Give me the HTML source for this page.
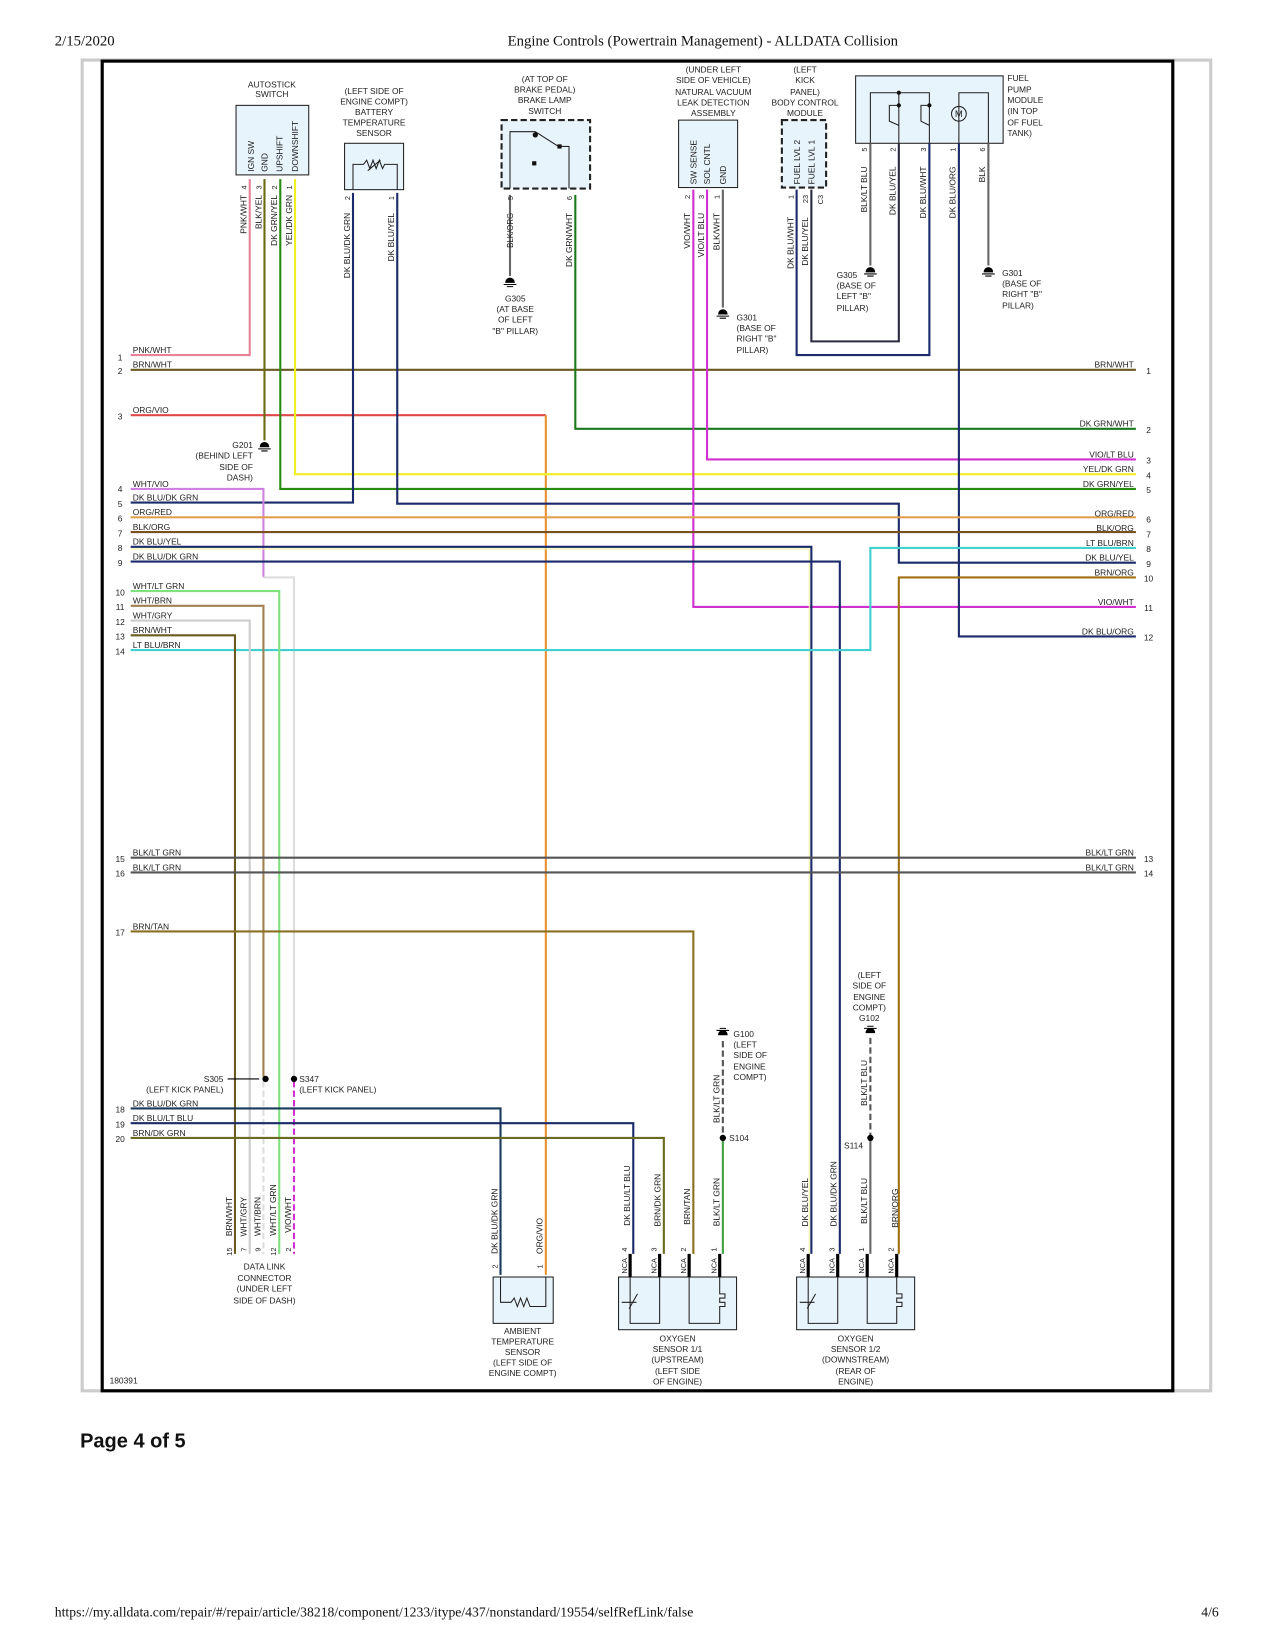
<!DOCTYPE html>
<html><head><meta charset="utf-8"><style>
html,body{margin:0;padding:0;background:#fff}
svg{display:block}
.t{font-family:"Liberation Sans",sans-serif;font-size:8px;fill:#222}
.s{font-family:"Liberation Serif",serif;font-size:14px;fill:#111}
.w{fill:none;stroke-width:2}
.c{text-anchor:middle}
.e{text-anchor:end}
</style></head><body>
<svg width="1275" height="1650" viewBox="0 0 1210 1566" preserveAspectRatio="none" xmlns="http://www.w3.org/2000/svg">
<text class="s" x="52" y="43">2/15/2020</text>
<text class="s c" x="667" y="43">Engine Controls (Powertrain Management) - ALLDATA Collision</text>
<rect x="78" y="57" width="1071" height="1263" fill="none" stroke="#ccc" stroke-width="3"/>
<rect x="97" y="58" width="1016" height="1262" fill="none" stroke="#000" stroke-width="3"/>
<text x="76" y="1374" style="font-family:'Liberation Sans',sans-serif;font-size:19px;font-weight:bold;fill:#111">Page 4 of 5</text>
<text class="s" x="52" y="1534" style="font-size:13px">https://my.alldata.com/repair/#/repair/article/38218/component/1233/itype/437/nonstandard/19554/selfRefLink/false</text>
<text class="s" x="1140" y="1534" style="font-size:13px">4/6</text>

<g fill="#e8f4fc" stroke="#222" stroke-width="1">
<rect x="224" y="100" width="69" height="66"/>
<rect x="327" y="136" width="56" height="44"/>
<rect x="476" y="114" width="84" height="65" stroke-dasharray="6,3" stroke-width="2"/>
<rect x="644" y="114" width="56" height="64"/>
<rect x="742" y="114" width="42" height="64" stroke-dasharray="6,3" stroke-width="2"/>
<rect x="812" y="72" width="140" height="64"/>
<rect x="468" y="1212" width="57" height="44"/>
<rect x="587" y="1212" width="112" height="50"/>
<rect x="756" y="1212" width="112" height="50"/>
</g>
<g fill="none" stroke="#222" stroke-width="1">
<path d="M335 180 V156 H345 l3-4 3 8 3-8 3 8 3-8 3 8 2-4 H377 V180"/>
<path d="M349 162 l12-10"/>
<path d="M484 179 V125 H508 L530 139 H540 V179"/>
<path d="M826 136 V88 H882 V136 M853 88 V136 M910 136 V88 H938 V136"/>
<path d="M853 100 H844 V115 l9 4 M882 100 H874 V115 l8 4"/>
<circle cx="910" cy="108" r="7"/>
<path d="M475 1212 V1236 H485 l3-4 3 8 3-8 3 8 3-8 3 8 H518 V1212"/>
<path d="M598 1212 V1256 H626 V1212 M654 1212 V1256 H683 V1240 h5 v-4 h-5 v-4 h5 v-4 h-5 V1212"/>
<path d="M767 1212 V1256 H795 V1212 M823 1212 V1256 H851 V1240 h5 v-4 h-5 v-4 h5 v-4 h-5 V1212"/>
<path d="M590 1236 h14 M597 1242 l8-14 M759 1236 h14 M766 1242 l8-14"/>
</g>
<text class="t c" x="910" y="111" style="font-size:9px">M</text>
<rect x="505" y="153" width="4" height="4" fill="#111"/><circle cx="508" cy="128" r="2.5" fill="#111"/><rect x="529" y="137" width="4" height="4" fill="#111"/>
<circle cx="853" cy="88" r="2" fill="#111"/><circle cx="853" cy="100" r="2" fill="#111"/><circle cx="882" cy="100" r="2" fill="#111"/>

<g class="w">
<path stroke="#e8829a" d="M124 337 H237 V170"/>
<path stroke="#6b5a20" d="M124 351 H1078"/>
<path stroke="#e04848" d="M124 394 H518"/>
<path stroke="#e89030" d="M518 394 V1210"/>
<path stroke="#6b6a10" d="M251 170 V418"/>
<path stroke="#2a8a10" d="M266 170 V464 H1078"/>
<path stroke="#f0f020" d="M280 170 V450 H1078"/>
<path stroke="#1a2a6a" d="M335 183 V477 H124"/>
<path stroke="#1a2a6a" d="M377 183 V478 H853 V534 H1078"/>
<path stroke="#666" d="M484 185 V262"/>
<path stroke="#1a7a1a" d="M546 185 V407 H1078"/>
<path stroke="#d030d0" d="M658 180 V576 H1078"/>
<path stroke="#d030d0" d="M671 180 V436 H1078"/>
<path stroke="#666" d="M686 180 V292"/>
<path stroke="#1a2a6a" d="M756 180 V337 H882 V136"/>
<path stroke="#2a2a40" d="M770 180 V324 H853 V136"/>
<path stroke="#666" d="M826 136 V252"/>
<path stroke="#1a2a6a" d="M910 136 V604 H1078"/>
<path stroke="#666" d="M938 136 V252"/>
<path stroke="#d080e0" d="M124 464 H250 V548"/>
<path stroke="#ddd" d="M250 548 H279 V1022"/>
<path stroke="#d030d0" stroke-dasharray="6,3" d="M279 1026 V1190"/>
<path stroke="#e0a050" d="M124 491 H1078"/>
<path stroke="#7a5020" d="M124 505 H1078"/>
<path stroke="#1a2a6a" d="M124 519 H770 V1190"/>
<path stroke="#f0f0a0" stroke-width="1" d="M124 521 H768 V1190"/>
<path stroke="#1a2a6a" d="M124 533 H797 V1190"/>
<path stroke="#40d0d0" d="M1078 520 H826 V617 H124"/>
<path stroke="#a07010" d="M1078 548 H853 V1190"/>
<path stroke="#80e080" d="M124 561 H265 V1190"/>
<path stroke="#a08050" d="M124 575 H250 V1022"/>
<path stroke="#ddd" stroke-dasharray="6,3" d="M250 1026 V1190"/>
<path stroke="#ccc" d="M124 589 H237 V1190"/>
<path stroke="#6b5a20" d="M124 603 H223 V1190"/>
<path stroke="#555" d="M124 814 H1078 M124 828 H1078"/>
<path stroke="#8a7020" d="M124 884 H658 V1190"/>
<path stroke="#1a3a5a" d="M124 1052 H475 V1210"/>
<path stroke="#1a2a6a" d="M124 1066 H601 V1190"/>
<path stroke="#6a6a20" d="M124 1080 H630 V1190"/>
<path stroke="#555" stroke-dasharray="6,3" d="M686 988 V1080 M826 985 V1080"/>
<path stroke="#40a040" d="M686 1080 V1190"/>
<path stroke="#666" d="M826 1080 V1190"/>
</g>
<g stroke="#000" stroke-width="3"><path d="M598 1190V1212M626 1190V1212M654 1190V1212M683 1190V1212M767 1190V1212M795 1190V1212M823 1190V1212M851 1190V1212"/></g>
<g fill="#000"><circle cx="252" cy="1024" r="3"/><circle cx="279" cy="1024" r="3"/><circle cx="686" cy="1080" r="3"/><circle cx="826" cy="1080" r="3"/></g>
<path d="M216 1024 H246" stroke="#000" stroke-width="1"/>
<g fill="#000" stroke="#000" stroke-width="1">
<path d="M247 424 a4 4 0 0 1 8 0z M245 426 h12 M248 428 h6"/>
<path d="M480 268 a4 4 0 0 1 8 0z M478 270 h12 M481 272 h6"/>
<path d="M682 298 a4 4 0 0 1 8 0z M680 300 h12 M683 302 h6"/>
<path d="M822 258 a4 4 0 0 1 8 0z M820 260 h12 M823 262 h6"/>
<path d="M934 258 a4 4 0 0 1 8 0z M932 260 h12 M935 262 h6"/>
<path d="M682 982 a4 4 0 0 1 8 0z M680 978 h12 M683 976 h6"/>
<path d="M822 980 a4 4 0 0 1 8 0z M820 976 h12 M823 974 h6"/>
</g>

<g class="t c">
<text x="258" y="83">AUTOSTICK</text><text x="258" y="92">SWITCH</text>
<text x="355" y="89">(LEFT SIDE OF</text><text x="355" y="99">ENGINE COMPT)</text><text x="355" y="109">BATTERY</text><text x="355" y="119">TEMPERATURE</text><text x="355" y="129">SENSOR</text>
<text x="517" y="78">(AT TOP OF</text><text x="517" y="88">BRAKE PEDAL)</text><text x="517" y="98">BRAKE LAMP</text><text x="517" y="108">SWITCH</text>
<text x="677" y="69">(UNDER LEFT</text><text x="677" y="79">SIDE OF VEHICLE)</text><text x="677" y="90">NATURAL VACUUM</text><text x="677" y="100">LEAK DETECTION</text><text x="677" y="110">ASSEMBLY</text>
<text x="764" y="69">(LEFT</text><text x="764" y="79">KICK</text><text x="764" y="90">PANEL)</text><text x="764" y="100">BODY CONTROL</text><text x="764" y="110">MODULE</text>
<text x="489" y="286">G305</text><text x="489" y="296">(AT BASE</text><text x="489" y="306">OF LEFT</text><text x="489" y="317">"B" PILLAR)</text>
<text x="496" y="1266">AMBIENT</text><text x="496" y="1276">TEMPERATURE</text><text x="496" y="1286">SENSOR</text><text x="496" y="1296">(LEFT SIDE OF</text><text x="496" y="1306">ENGINE COMPT)</text>
<text x="643" y="1273">OXYGEN</text><text x="643" y="1283">SENSOR 1/1</text><text x="643" y="1293">(UPSTREAM)</text><text x="643" y="1304">(LEFT SIDE</text><text x="643" y="1314">OF ENGINE)</text>
<text x="812" y="1273">OXYGEN</text><text x="812" y="1283">SENSOR 1/2</text><text x="812" y="1293">(DOWNSTREAM)</text><text x="812" y="1304">(REAR OF</text><text x="812" y="1314">ENGINE)</text>
<text x="251" y="1205">DATA LINK</text><text x="251" y="1216">CONNECTOR</text><text x="251" y="1226">(UNDER LEFT</text><text x="251" y="1237">SIDE OF DASH)</text>
<text x="825" y="928">(LEFT</text><text x="825" y="938">SIDE OF</text><text x="825" y="949">ENGINE</text><text x="825" y="959">COMPT)</text><text x="825" y="969">G102</text>
</g>
<g class="t">
<text x="956" y="77">FUEL</text><text x="956" y="88">PUMP</text><text x="956" y="98">MODULE</text><text x="956" y="108">(IN TOP</text><text x="956" y="119">OF FUEL</text><text x="956" y="129">TANK)</text>
<text x="699" y="304">G301</text><text x="699" y="314">(BASE OF</text><text x="699" y="324">RIGHT "B"</text><text x="699" y="335">PILLAR)</text>
<text x="794" y="264">G305</text><text x="794" y="274">(BASE OF</text><text x="794" y="284">LEFT "B"</text><text x="794" y="295">PILLAR)</text>
<text x="951" y="262">G301</text><text x="951" y="272">(BASE OF</text><text x="951" y="282">RIGHT "B"</text><text x="951" y="293">PILLAR)</text>
<text x="696" y="984">G100</text><text x="696" y="994">(LEFT</text><text x="696" y="1004">SIDE OF</text><text x="696" y="1015">ENGINE</text><text x="696" y="1025">COMPT)</text>
<text x="692" y="1083">S104</text><text x="801" y="1090">S114</text>
<text x="284" y="1027">S347</text><text x="284" y="1037">(LEFT KICK PANEL)</text>
<text x="104" y="1313">180391</text>
</g>
<g class="t e">
<text x="212" y="1027">S305</text><text x="212" y="1037">(LEFT KICK PANEL)</text>
<text x="240" y="425">G201</text><text x="240" y="435">(BEHIND LEFT</text><text x="240" y="446">SIDE OF</text><text x="240" y="456">DASH)</text>
</g>

<g class="t">
<text x="126" y="335">PNK/WHT</text><text x="126" y="349">BRN/WHT</text><text x="126" y="392">ORG/VIO</text>
<text x="126" y="462">WHT/VIO</text><text x="126" y="475">DK BLU/DK GRN</text><text x="126" y="489">ORG/RED</text><text x="126" y="503">BLK/ORG</text><text x="126" y="517">DK BLU/YEL</text><text x="126" y="531">DK BLU/DK GRN</text>
<text x="126" y="559">WHT/LT GRN</text><text x="126" y="573">WHT/BRN</text><text x="126" y="587">WHT/GRY</text><text x="126" y="601">BRN/WHT</text><text x="126" y="615">LT BLU/BRN</text>
<text x="126" y="812">BLK/LT GRN</text><text x="126" y="826">BLK/LT GRN</text><text x="126" y="882">BRN/TAN</text>
<text x="126" y="1050">DK BLU/DK GRN</text><text x="126" y="1064">DK BLU/LT BLU</text><text x="126" y="1078">BRN/DK GRN</text>
</g>
<g class="t c">
<text x="114" y="342">1</text><text x="114" y="355">2</text><text x="114" y="398">3</text><text x="114" y="467">4</text><text x="114" y="481">5</text><text x="114" y="495">6</text><text x="114" y="509">7</text><text x="114" y="523">8</text><text x="114" y="537">9</text><text x="114" y="565">10</text><text x="114" y="579">11</text><text x="114" y="593">12</text><text x="114" y="607">13</text><text x="114" y="621">14</text><text x="114" y="818">15</text><text x="114" y="832">16</text><text x="114" y="888">17</text><text x="114" y="1056">18</text><text x="114" y="1070">19</text><text x="114" y="1084">20</text>
<text x="1090" y="355">1</text><text x="1090" y="411">2</text><text x="1090" y="440">3</text><text x="1090" y="454">4</text><text x="1090" y="468">5</text><text x="1090" y="496">6</text><text x="1090" y="510">7</text><text x="1090" y="524">8</text><text x="1090" y="538">9</text><text x="1090" y="552">10</text><text x="1090" y="580">11</text><text x="1090" y="608">12</text><text x="1090" y="818">13</text><text x="1090" y="832">14</text>
</g>
<g class="t e">
<text x="1076" y="349">BRN/WHT</text><text x="1076" y="405">DK GRN/WHT</text><text x="1076" y="434">VIO/LT BLU</text><text x="1076" y="448">YEL/DK GRN</text><text x="1076" y="462">DK GRN/YEL</text><text x="1076" y="490">ORG/RED</text><text x="1076" y="504">BLK/ORG</text><text x="1076" y="518">LT BLU/BRN</text><text x="1076" y="532">DK BLU/YEL</text><text x="1076" y="546">BRN/ORG</text><text x="1076" y="574">VIO/WHT</text><text x="1076" y="602">DK BLU/ORG</text><text x="1076" y="812">BLK/LT GRN</text><text x="1076" y="826">BLK/LT GRN</text>
</g>

<!-- labels inside boxes: start at bottom, read upward -->
<g class="t">
<text transform="translate(241,163) rotate(-90)">IGN SW</text>
<text transform="translate(254,163) rotate(-90)">GND</text>
<text transform="translate(268,163) rotate(-90)">UPSHIFT</text>
<text transform="translate(283,163) rotate(-90)">DOWNSHIFT</text>
<text transform="translate(661,175) rotate(-90)">SW SENSE</text>
<text transform="translate(674,175) rotate(-90)">SOL CNTL</text>
<text transform="translate(689,175) rotate(-90)">GND</text>
<text transform="translate(759,175) rotate(-90)">FUEL LVL 2</text>
<text transform="translate(773,175) rotate(-90)">FUEL LVL 1</text>
</g>
<g class="t e">
<text transform="translate(234,185) rotate(-90)">PNK/WHT</text>
<text transform="translate(248,185) rotate(-90)">BLK/YEL</text>
<text transform="translate(263,185) rotate(-90)">DK GRN/YEL</text>
<text transform="translate(277,185) rotate(-90)">YEL/DK GRN</text>
<text transform="translate(332,202) rotate(-90)">DK BLU/DK GRN</text>
<text transform="translate(374,202) rotate(-90)">DK BLU/YEL</text>
<text transform="translate(487,202) rotate(-90)" style="font-size:7.5px">BLK/ORG</text>
<text transform="translate(543,202) rotate(-90)">DK GRN/WHT</text>
<text transform="translate(655,202) rotate(-90)">VIO/WHT</text>
<text transform="translate(668,202) rotate(-90)">VIO/LT BLU</text>
<text transform="translate(683,202) rotate(-90)">BLK/WHT</text>
<text transform="translate(753,206) rotate(-90)">DK BLU/WHT</text>
<text transform="translate(767,206) rotate(-90)">DK BLU/YEL</text>
<text transform="translate(823,158) rotate(-90)">BLK/LT BLU</text>
<text transform="translate(850,158) rotate(-90)">DK BLU/YEL</text>
<text transform="translate(879,158) rotate(-90)">DK BLU/WHT</text>
<text transform="translate(907,158) rotate(-90)">DK BLU/ORG</text>
<text transform="translate(935,158) rotate(-90)">BLK</text>
<text transform="translate(220,1136) rotate(-90)">BRN/WHT</text>
<text transform="translate(234,1136) rotate(-90)">WHT/GRY</text>
<text transform="translate(247,1136) rotate(-90)">WHT/BRN</text>
<text transform="translate(262,1124) rotate(-90)">WHT/LT GRN</text>
<text transform="translate(276,1136) rotate(-90)">VIO/WHT</text>
<text transform="translate(472,1128) rotate(-90)">DK BLU/DK GRN</text>
<text transform="translate(515,1156) rotate(-90)">ORG/VIO</text>
<text transform="translate(598,1106) rotate(-90)">DK BLU/LT BLU</text>
<text transform="translate(627,1114) rotate(-90)">BRN/DK GRN</text>
<text transform="translate(655,1128) rotate(-90)">BRN/TAN</text>
<text transform="translate(683,1118) rotate(-90)">BLK/LT GRN</text>
<text transform="translate(683,1020) rotate(-90)">BLK/LT GRN</text>
<text transform="translate(767,1118) rotate(-90)">DK BLU/YEL</text>
<text transform="translate(794,1102) rotate(-90)">DK BLU/DK GRN</text>
<text transform="translate(823,1118) rotate(-90)">BLK/LT BLU</text>
<text transform="translate(823,1006) rotate(-90)">BLK/LT BLU</text>
<text transform="translate(852,1128) rotate(-90)">BRN/ORG</text>
</g>
<g class="t e" style="font-size:7px">
<text transform="translate(234,176) rotate(-90)">4</text><text transform="translate(248,176) rotate(-90)">3</text><text transform="translate(263,176) rotate(-90)">2</text><text transform="translate(277,176) rotate(-90)">1</text>
<text transform="translate(332,186) rotate(-90)">2</text><text transform="translate(374,186) rotate(-90)">1</text>
<text transform="translate(487,186) rotate(-90)">5</text><text transform="translate(543,186) rotate(-90)">6</text>
<text transform="translate(655,185) rotate(-90)">2</text><text transform="translate(668,185) rotate(-90)">3</text><text transform="translate(683,185) rotate(-90)">1</text>
<text transform="translate(753,185) rotate(-90)">1</text><text transform="translate(767,185) rotate(-90)">23</text><text transform="translate(781,185) rotate(-90)">C3</text>
<text transform="translate(823,140) rotate(-90)">5</text><text transform="translate(850,140) rotate(-90)">2</text><text transform="translate(879,140) rotate(-90)">3</text><text transform="translate(907,140) rotate(-90)">1</text><text transform="translate(935,140) rotate(-90)">6</text>
<text transform="translate(220,1184) rotate(-90)">15</text><text transform="translate(234,1184) rotate(-90)">7</text><text transform="translate(247,1184) rotate(-90)">9</text><text transform="translate(262,1184) rotate(-90)">12</text><text transform="translate(276,1184) rotate(-90)">2</text>
<text transform="translate(472,1200) rotate(-90)">2</text><text transform="translate(515,1200) rotate(-90)">1</text>
<text transform="translate(595,1184) rotate(-90)">4</text><text transform="translate(623,1184) rotate(-90)">3</text><text transform="translate(651,1184) rotate(-90)">2</text><text transform="translate(680,1184) rotate(-90)">1</text>
<text transform="translate(764,1184) rotate(-90)">4</text><text transform="translate(792,1184) rotate(-90)">3</text><text transform="translate(820,1184) rotate(-90)">1</text><text transform="translate(848,1184) rotate(-90)">2</text>
<text transform="translate(595,1194) rotate(-90)">NCA</text><text transform="translate(623,1194) rotate(-90)">NCA</text><text transform="translate(651,1194) rotate(-90)">NCA</text><text transform="translate(680,1194) rotate(-90)">NCA</text>
<text transform="translate(764,1194) rotate(-90)">NCA</text><text transform="translate(792,1194) rotate(-90)">NCA</text><text transform="translate(820,1194) rotate(-90)">NCA</text><text transform="translate(848,1194) rotate(-90)">NCA</text>
</g>
</svg>
</body></html>
